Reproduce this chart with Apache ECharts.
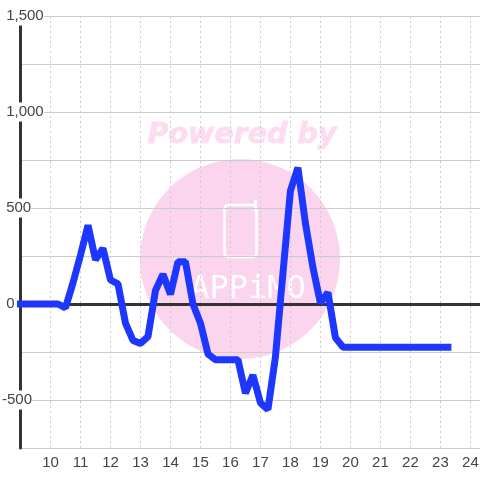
<!DOCTYPE html>
<html>
<head>
<meta charset="utf-8">
<style>
  html, body { margin: 0; padding: 0; background: #fff; }
  #main { width: 480px; height: 480px; }
</style>
<script src="https://cdn.jsdelivr.net/npm/echarts@6/dist/echarts.min.js"></script>
</head>
<body>
<div id="main"></div>
<script>
// data
const hours = [
  9, 9.25, 9.5, 9.75, 10, 10.25, 10.5, 10.75, 11, 11.25, 11.5, 11.75,
  12, 12.25, 12.5, 12.75, 13, 13.25, 13.5, 13.75, 14, 14.25, 14.5, 14.75,
  15, 15.25, 15.5, 15.75, 16, 16.25, 16.5, 16.75, 17, 17.25, 17.5, 17.75,
  18, 18.25, 18.5, 18.75, 19, 19.25, 19.5, 19.75, 20, 20.25, 20.5, 20.75,
  21, 21.25, 21.5, 21.75, 22, 22.25, 22.5, 22.75, 23, 23.25
]
const values = [
  0, 0, 0, 0, 0, 0, -20, 110, 255, 410, 230, 290,
  125, 105, -100, -190, -205, -170, 70, 155, 50, 220, 220, 0,
  -100, -260, -290, -290, -290, -290, -465, -370, -515, -550, -275, 160,
  590, 710, 420, 190, 5, 60, -175, -225, -225, -225, -225, -225,
  -225, -225, -225, -225, -225, -225, -225, -225, -225, -225
]
const yTickLabels = { 1500: ' 1,500', 1000: ' 1,000', 500: ' 500', 0: ' 0', '-500': '-500' }

const textColor = '#444'
const gridColor = '#ccc'
const axisColor = '#333'

const myChart = echarts.init(document.getElementById('main'), null, { renderer: 'canvas' })

const option = {
  animation: false,
  backgroundColor: '#fff',
  textStyle: { fontFamily: 'Liberation Sans' },
  grid: { left: 20.5, right: 0, top: 16, bottom: 32, outerBoundsMode: 'none' },
  // 水印
  graphic: [
    { type: 'circle', z: -10, silent: true, shape: { cx: 240, cy: 259, r: 100 }, style: { fill: '#fbd5ee' } },
    {
      type: 'text', z: -10, silent: true, x: 242, y: 136,
      style: {
        text: 'Powered by', fill: '#fddcf1', stroke: '#fddcf1', lineWidth: 0.8, align: 'center', verticalAlign: 'middle',
        font: 'italic bold 28.5px "DejaVu Sans"'
      }
    },
    {
      type: 'rect', z: -9, silent: true,
      shape: { x: 224.5, y: 205, width: 32, height: 52, r: 4 },
      style: { fill: 'none', stroke: '#fff', lineWidth: 2.5 }
    },
    {
      type: 'line', z: -9, silent: true,
      shape: { x1: 255.5, y1: 201, x2: 255.5, y2: 210 },
      style: { stroke: '#fff', lineWidth: 3, lineCap: 'round' }
    },
    {
      type: 'text', z: -9, silent: true, x: 248, y: 290,
      style: {
        text: 'APPiMO', fill: '#fff', align: 'center', verticalAlign: 'middle',
        font: '32px "DejaVu Sans Mono"'
      }
    }
  ],
  xAxis: [
    {
      type: 'value',
      min: 9,
      max: 24.32,
      interval: 1,
      axisLine: { show: false, onZero: false },
      axisTick: { show: false },
      axisLabel: { color: textColor, fontSize: 15, margin: 7, showMinLabel: false, showMaxLabel: false },
      splitLine: { show: true, showMaxLine: false, lineStyle: { type: [2, 3], color: gridColor, width: 1 } }
    },
    {
      // 零线, 只画线
      type: 'value',
      min: 9,
      max: 24.32,
      axisLine: { show: true, onZero: true, lineStyle: { color: axisColor, width: 3 } },
      axisTick: { show: false },
      axisLabel: { show: false },
      splitLine: { show: false }
    }
  ],
  yAxis: {
    type: 'value',
    min: -750,
    max: 1500,
    interval: 250,
    axisLine: { show: true, onZero: false, lineStyle: { color: axisColor, width: 3 } },
    axisTick: { show: false },
    axisLabel: {
      color: textColor,
      fontSize: 15,
      align: 'left',
      margin: 18.5,
      padding: [4, 0, 0, 0],
      backgroundColor: '#fff',
      formatter: v => yTickLabels[v] || ''
    },
    splitLine: { show: true, lineStyle: { color: gridColor, width: 1 } }
  },
  series: [
    {
      type: 'line',
      xAxisIndex: 0,
      data: hours.map((h, i) => [h, values[i]]),
      showSymbol: false,
      symbol: 'none',
      lineStyle: { color: '#1e37ff', width: 7, cap: 'square', join: 'bevel' }
    }
  ]
}

myChart.setOption(option)
</script>
</body>
</html>
